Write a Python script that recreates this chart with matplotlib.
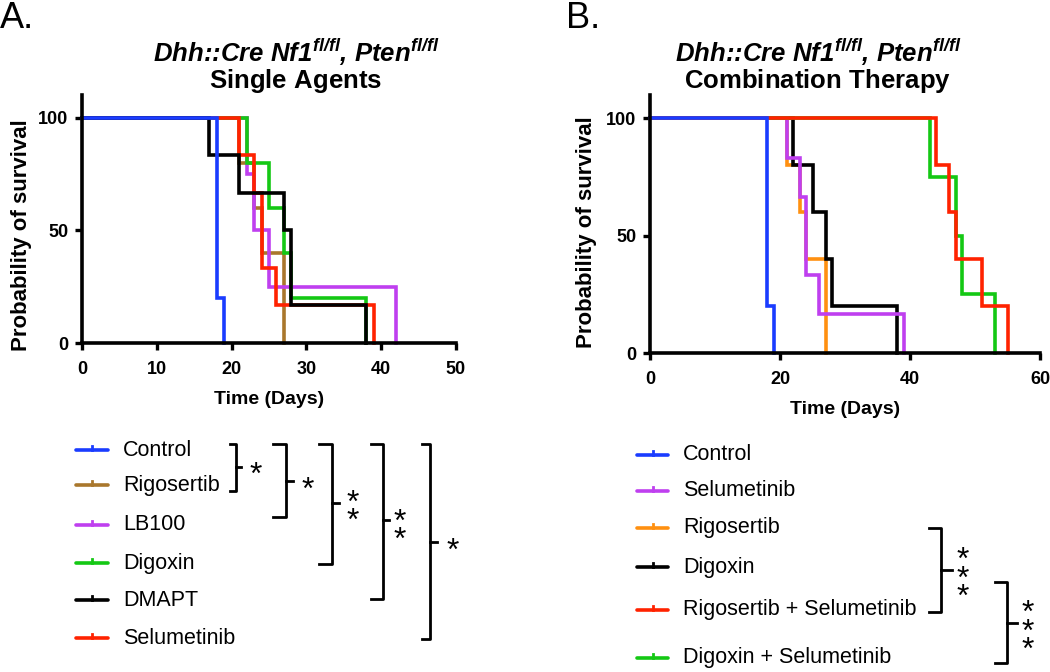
import numpy as np
import matplotlib
matplotlib.use("Agg")
from matplotlib import pyplot as plt

plt.rcParams['font.family'] = ['Liberation Sans', 'DejaVu Sans']
plt.rcParams['mathtext.fontset'] = 'custom'
plt.rcParams['mathtext.rm'] = 'Liberation Sans:italic:bold'
plt.rcParams['mathtext.it'] = 'Liberation Sans:italic:bold'
plt.rcParams['mathtext.bf'] = 'Liberation Sans:italic:bold'
plt.rcParams['mathtext.sf'] = 'Liberation Sans:bold'

# ---- panel A: single agents (time in days, survival in %)
a_names = ['Control', 'Rigosertib', 'LB100', 'Digoxin', 'DMAPT', 'Selumetinib']
a_colors = ['#1a3cff', '#a9772c', '#bf3fef', '#14c814', '#000000', '#ff2200']
a_times = [
    [0, 18, 19],
    [0, 21, 23, 24, 27],
    [0, 22, 23, 25, 42],
    [0, 22, 25, 27, 28, 38],
    [0, 17, 21, 27, 28, 38],
    [0, 21, 23, 24, 26, 39],
]
a_surv = [
    [100, 20, 0],
    [100, 80, 60, 40, 0],
    [100, 75, 50, 25, 0],
    [100, 80, 60, 40, 20, 0],
    [100, 83.3, 66.7, 50, 16.7, 0],
    [100, 83.3, 66.7, 33.3, 16.7, 0],
]
a_order = [1, 2, 3, 5, 4, 0]   # drawing order, last on top

# ---- panel B: combination therapy
b_names = ['Control', 'Selumetinib', 'Rigosertib', 'Digoxin',
           'Rigosertib + Selumetinib', 'Digoxin + Selumetinib']
b_colors = ['#1a3cff', '#bf3fef', '#ff9010', '#000000', '#ff2200', '#14c814']
b_times = [
    [0, 18, 19],
    [0, 21, 23, 24, 26, 39],
    [0, 21, 23, 24, 27],
    [0, 22, 25, 27, 28, 38],
    [0, 44, 46, 47, 51, 55],
    [0, 43, 47, 48, 53],
]
b_surv = [
    [100, 20, 0],
    [100, 83.3, 66.7, 33.3, 16.7, 0],
    [100, 80, 60, 40, 0],
    [100, 80, 60, 40, 20, 0],
    [100, 80, 60, 40, 20, 0],
    [100, 75, 50, 25, 0],
]
b_order = [2, 3, 1, 5, 4, 0]

title_top = r'Dhh::Cre Nf1$^{fl/fl}$, Pten$^{fl/fl}$'
a_sub = r'$\mathsf{Single\ Agents}$'
b_sub = r'$\mathsf{Combination\ Therapy}$'

W, H = 1050, 672
fig = plt.figure(figsize=(10.5, 6.72), dpi=100)


def km_axes(rect, times, surv, colors, order, xmax, xstep, ylab_x, ylab_y):
    ax = fig.add_axes(rect)
    for i in order:
        ax.plot(times[i], surv[i], drawstyle='steps-post', color=colors[i],
                lw=2.6, solid_joinstyle='miter', clip_on=False)
    ax.set_xlim(0, xmax)
    ax.set_ylim(0, 110)
    ax.set_xticks(np.arange(0, xmax + 1, xstep))
    ax.set_yticks([0, 50, 100])
    for s in ['top', 'right']:
        ax.spines[s].set_visible(False)
    for s in ['left', 'bottom']:
        ax.spines[s].set_linewidth(2.6)
    ax.tick_params(direction='out', length=5, width=2.4, labelsize=13)
    ax.tick_params(axis='x', pad=8)
    ax.tick_params(axis='y', pad=5)
    for lab in ax.get_xticklabels() + ax.get_yticklabels():
        lab.set_fontweight('bold')
    ax.set_xlabel('Time (Days)', fontsize=14, fontweight='bold', labelpad=9)
    ax.set_ylabel('Probability of survival', fontsize=16, fontweight='bold')
    ax.yaxis.set_label_coords(ylab_x, ylab_y)
    return ax


axA = km_axes([82 / W, 1 - 343 / H, 374 / W, 248 / H], a_times, a_surv, a_colors, a_order,
              50, 10, -0.134, 0.435)
axB = km_axes([650 / W, 1 - 353 / H, 390 / W, 258 / H], b_times, b_surv, b_colors, b_order,
              60, 20, -0.136, 0.47)

# overlay in pixel coordinates for titles, legends and brackets
ov = fig.add_axes([0, 0, 1, 1], zorder=-1)
ov.set_xlim(0, W)
ov.set_ylim(H, 0)
ov.axis('off')

ov.text(0, 19, 'A.', fontsize=26, ha='left', va='center')
ov.text(566, 19, 'B.', fontsize=26, ha='left', va='center')
ov.text(296, 66, title_top + '\n' + a_sub, fontsize=18.5, fontweight='bold', style='italic',
        ha='center', va='center', multialignment='center', linespacing=0.92)
ov.text(818, 66, title_top + '\n' + b_sub, fontsize=18.5, fontweight='bold', style='italic',
        ha='center', va='center', multialignment='center', linespacing=0.92)


def legend(names, colors, ys, x0, x1, xt):
    for name, c, y in zip(names, colors, ys):
        ov.plot([x0, x1], [y, y], color=c, lw=2.6, solid_capstyle='round')
        xm = (x0 + x1) / 2
        ov.plot([xm, xm], [y, y - 4], color=c, lw=2.0)
        ov.text(xt, y, name, fontsize=15.5, ha='left', va='center')


legend(a_names, a_colors, [450, 485, 525, 563, 600, 638], 76, 108, 123)
legend(b_names, b_colors, [455, 491, 528, 567, 610, 658], 637, 668, 683)


def bracket(xl, xr, yt, yb, ym, xe, sx, sy, n, dy=17.5):
    ov.plot([xl, xr, xr, xl], [yt, yt, yb, yb], color='black', lw=2.0,
            solid_joinstyle='round')
    ov.plot([xr, xe], [ym, ym], color='black', lw=2.0)
    # stacked asterisks in one text
    ytop = sy - (n - 1) / 2 * dy - 6.5
    ov.text(sx, ytop, '\n'.join(['*'] * n), fontsize=23, ha='center', va='top',
            linespacing=0.5)


bracket(230, 236, 444, 491, 467, 241, 256, 467, 1)
bracket(273, 286, 444, 517, 481, 293, 308, 482, 1)
bracket(319, 332, 444, 564, 503, 339, 353, 504, 2)
bracket(371, 383, 444, 599, 520, 389, 400, 523, 2)
bracket(422, 430, 444, 639, 542, 437, 453, 543, 1)
bracket(929, 941, 528, 612, 570, 952, 963, 570, 3)
bracket(995, 1007, 582, 663, 623, 1017, 1028, 623, 3)

fig.savefig('out.png', dpi=100)
